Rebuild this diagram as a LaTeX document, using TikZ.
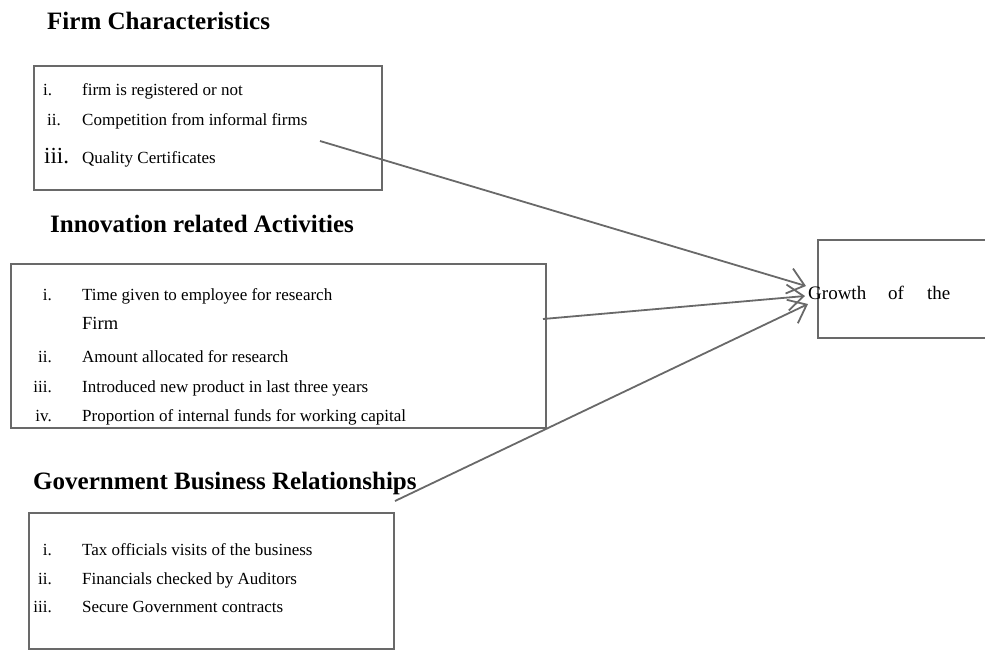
\documentclass[tikz,border=0pt]{standalone}
\usepackage{fontspec}
\setmainfont{Liberation Serif}
\usetikzlibrary{arrows.meta}
\definecolor{linegray}{RGB}{105,105,105}
\begin{document}
\begin{tikzpicture}[x=1pt,y=-1pt,
  box/.style={draw=linegray, line width=1.8pt, inner sep=0pt, anchor=north west},
  title/.style={anchor=base west, inner sep=0pt, font=\fontsize{25}{29}\selectfont\bfseries},
  item/.style={anchor=base west, inner sep=0pt, font=\fontsize{17}{20}\selectfont},
  lab/.style={anchor=base east, inner sep=0pt, font=\fontsize{17}{20}\selectfont},
  labw/.style={anchor=base west, inner sep=0pt, font=\fontsize{17}{20}\selectfont},
  conn/.style={draw=linegray, line width=1.8pt, -{Straight Barb[length=16pt,width=26pt,line width=1.8pt]}}]
\useasboundingbox (0,0) rectangle (985,649);

% boxes
\node[box, minimum width=348pt, minimum height=124pt] (fcbox) at (33,65) {};
\node[box, minimum width=535pt, minimum height=164pt] (iabox) at (10,263) {};
\node[box, minimum width=365pt, minimum height=136pt] (gbbox) at (28,512) {};
\node[box, minimum width=180pt, minimum height=98pt] (grbox) at (817,239) {};

% titles
\node[title] (fctitle) at (47,29) {Firm Characteristics};
\node[title] (iatitle) at (50,232) {Innovation related Activities};
\node[title] (gbtitle) at (33,489) {Government Business Relationships};

% firm characteristics items
\node[labw] (fc1l) at (43,95) {i.};
\node[item] (fc1) at (82,95) {firm is registered or not};
\node[labw] (fc2l) at (47,125) {ii.};
\node[item] (fc2) at (82,125) {Competition from informal firms};
\node[labw, font=\fontsize{23}{26}\selectfont] (fc3l) at (44,163) {iii.};
\node[item] (fc3) at (82,163) {Quality Certificates};

% innovation items
\node[lab] (ia1l) at (52,300) {i.};
\node[item] (ia1) at (82,300) {Time given to employee for research};
\node[item, font=\fontsize{18.5}{22}\selectfont] (iafirm) at (82,329) {Firm};
\node[lab] (ia2l) at (52,362) {ii.};
\node[item] (ia2) at (82,362) {Amount allocated for research};
\node[lab] (ia3l) at (52,392) {iii.};
\node[item] (ia3) at (82,392) {Introduced new product in last three years};
\node[lab] (ia4l) at (52,421) {iv.};
\node[item] (ia4) at (82,421) {Proportion of internal funds for working capital};

% government items
\node[lab] (gb1l) at (52,555) {i.};
\node[item] (gb1) at (82,555) {Tax officials visits of the business};
\node[lab] (gb2l) at (52,584) {ii.};
\node[item] (gb2) at (82,584) {Financials checked by Auditors};
\node[lab] (gb3l) at (52,612) {iii.};
\node[item] (gb3) at (82,612) {Secure Government contracts};

% growth text
\node[item, font=\fontsize{19}{22}\selectfont] (growth) at (808,299) {Growth\hspace{22pt}of\hspace{23pt}the};

% connectors
\coordinate (s1) at (320,141);
\coordinate (s2) at (543,319);
\coordinate (s3) at (395,501);
\coordinate (t1) at (806,286);
\coordinate (t2) at (805,296);
\coordinate (t3) at (808,304);
\draw[conn] (s1) -- (t1);
\draw[conn] (s2) -- (t2);
\draw[conn] (s3) -- (t3);
\end{tikzpicture}
\end{document}
